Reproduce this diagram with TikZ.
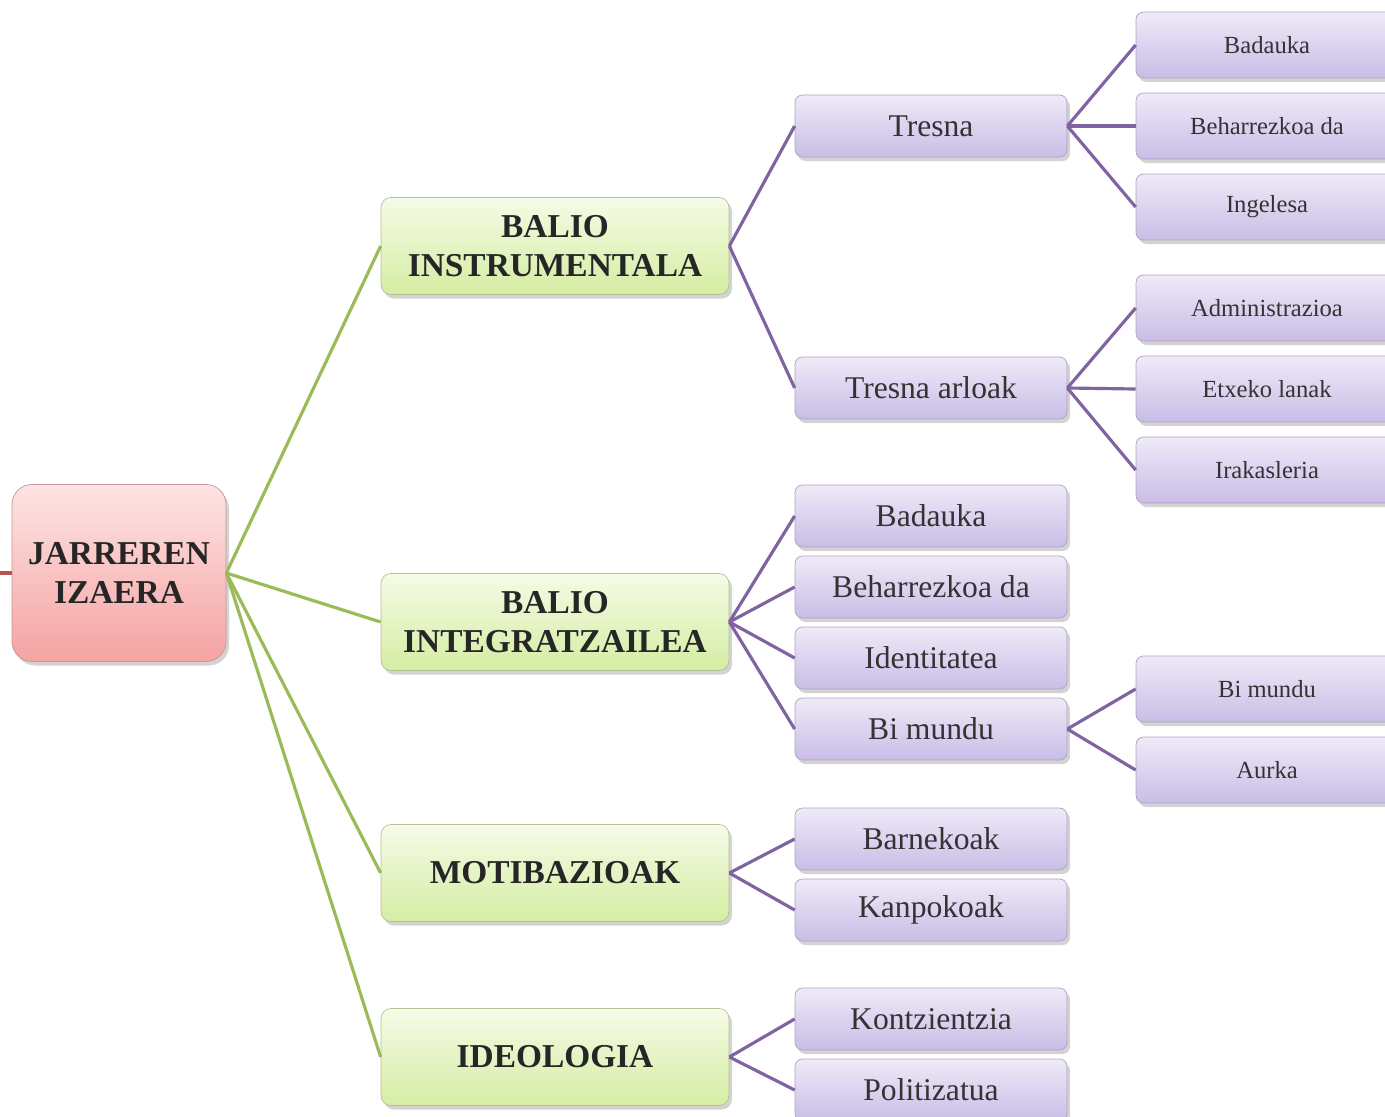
\documentclass[tikz,border=0pt]{standalone}
\usepackage{fontspec}
\setmainfont{Liberation Serif}
\usepackage{tikz}
\usetikzlibrary{shadows}

\definecolor{rootline}{HTML}{C0504D}
\definecolor{greenline}{HTML}{9BBB59}
\definecolor{purpleline}{HTML}{8064A2}
\definecolor{redtop}{HTML}{FDE4E4}
\definecolor{redbot}{HTML}{F5A3A3}
\definecolor{greentop}{HTML}{F5FBE6}
\definecolor{greenbot}{HTML}{D5EDA3}
\definecolor{purpletop}{HTML}{EFEAF8}
\definecolor{purplebot}{HTML}{C9BDE6}

\tikzset{
  boxshadow/.style={drop shadow={opacity=0.35,shadow xshift=0.6mm,shadow yshift=-0.8mm}},
  rootbox/.style={draw=redbot!60!gray, rounded corners=4mm, top color=redtop, bottom color=redbot,
    boxshadow, minimum width=4.28cm, minimum height=3.54cm, align=center,
    font=\fontsize{19}{22}\selectfont\bfseries, text=black!85},
  greenbox/.style={draw=greenbot!60!gray, rounded corners=2mm, top color=greentop, bottom color=greenbot,
    boxshadow, minimum width=6.96cm, minimum height=1.94cm, align=center,
    font=\fontsize{19}{22}\selectfont\bfseries, text=black!85},
  purplebox/.style={draw=purplebot!60!gray, rounded corners=1.5mm, top color=purpletop, bottom color=purplebot,
    boxshadow, minimum width=5.44cm, minimum height=1.24cm, align=center,
    font=\fontsize{18}{21}\selectfont, text=black!80},
  smallbox/.style={purplebox, minimum width=5.24cm, minimum height=1.32cm,
    font=\fontsize{14}{17}\selectfont},
  greenlink/.style={draw=greenline, line width=1.8pt},
  purplelink/.style={draw=purpleline, line width=1.8pt},
}

\begin{document}
\begin{tikzpicture}
\useasboundingbox (0,0) rectangle (27.70,-22.34);

\coordinate (10) at (0,-11.46);
\node[rootbox] (11) at (2.38,-11.46) {JARREREN\\IZAERA};

\node[greenbox] (21) at (11.10,-4.92) {BALIO\\INSTRUMENTALA};
\node[greenbox] (22) at (11.10,-12.44) {BALIO\\INTEGRATZAILEA};
\node[greenbox] (23) at (11.10,-17.46) {MOTIBAZIOAK};
\node[greenbox] (24) at (11.10,-21.14) {IDEOLOGIA};

\node[purplebox] (31) at (18.62,-2.52) {Tresna};
\node[purplebox] (32) at (18.62,-7.76) {Tresna arloak};
\node[purplebox] (33) at (18.62,-10.32) {Badauka};
\node[purplebox] (34) at (18.62,-11.74) {Beharrezkoa da};
\node[purplebox] (35) at (18.62,-13.16) {Identitatea};
\node[purplebox] (36) at (18.62,-14.58) {Bi mundu};
\node[purplebox] (37) at (18.62,-16.78) {Barnekoak};
\node[purplebox] (38) at (18.62,-18.20) {Kanpokoak};
\node[purplebox] (39) at (18.62,-20.38) {Kontzientzia};
\node[purplebox] (310) at (18.62,-21.80) {Politizatua};

\node[smallbox] (41) at (25.34,-0.90) {Badauka};
\node[smallbox] (42) at (25.34,-2.52) {Beharrezkoa da};
\node[smallbox] (43) at (25.34,-4.14) {Ingelesa};
\node[smallbox] (44) at (25.34,-6.16) {Administrazioa};
\node[smallbox] (45) at (25.34,-7.78) {Etxeko lanak};
\node[smallbox] (46) at (25.34,-9.40) {Irakasleria};
\node[smallbox] (47) at (25.34,-13.78) {Bi mundu};
\node[smallbox] (48) at (25.34,-15.40) {Aurka};

\draw[draw=rootline, line width=1.8pt] (10) -- (11.west);
\foreach \g in {21,22,23,24}
  \draw[greenlink] (11.east) -- (\g.west);

\foreach \p in {31,32}
  \draw[purplelink] (21.east) -- (\p.west);
\foreach \p in {33,34,35,36}
  \draw[purplelink] (22.east) -- (\p.west);
\foreach \p in {37,38}
  \draw[purplelink] (23.east) -- (\p.west);
\foreach \p in {39,310}
  \draw[purplelink] (24.east) -- (\p.west);

\foreach \s in {41,42,43}
  \draw[purplelink] (31.east) -- (\s.west);
\foreach \s in {44,45,46}
  \draw[purplelink] (32.east) -- (\s.west);
\foreach \s in {47,48}
  \draw[purplelink] (36.east) -- (\s.west);
\end{tikzpicture}
\end{document}
